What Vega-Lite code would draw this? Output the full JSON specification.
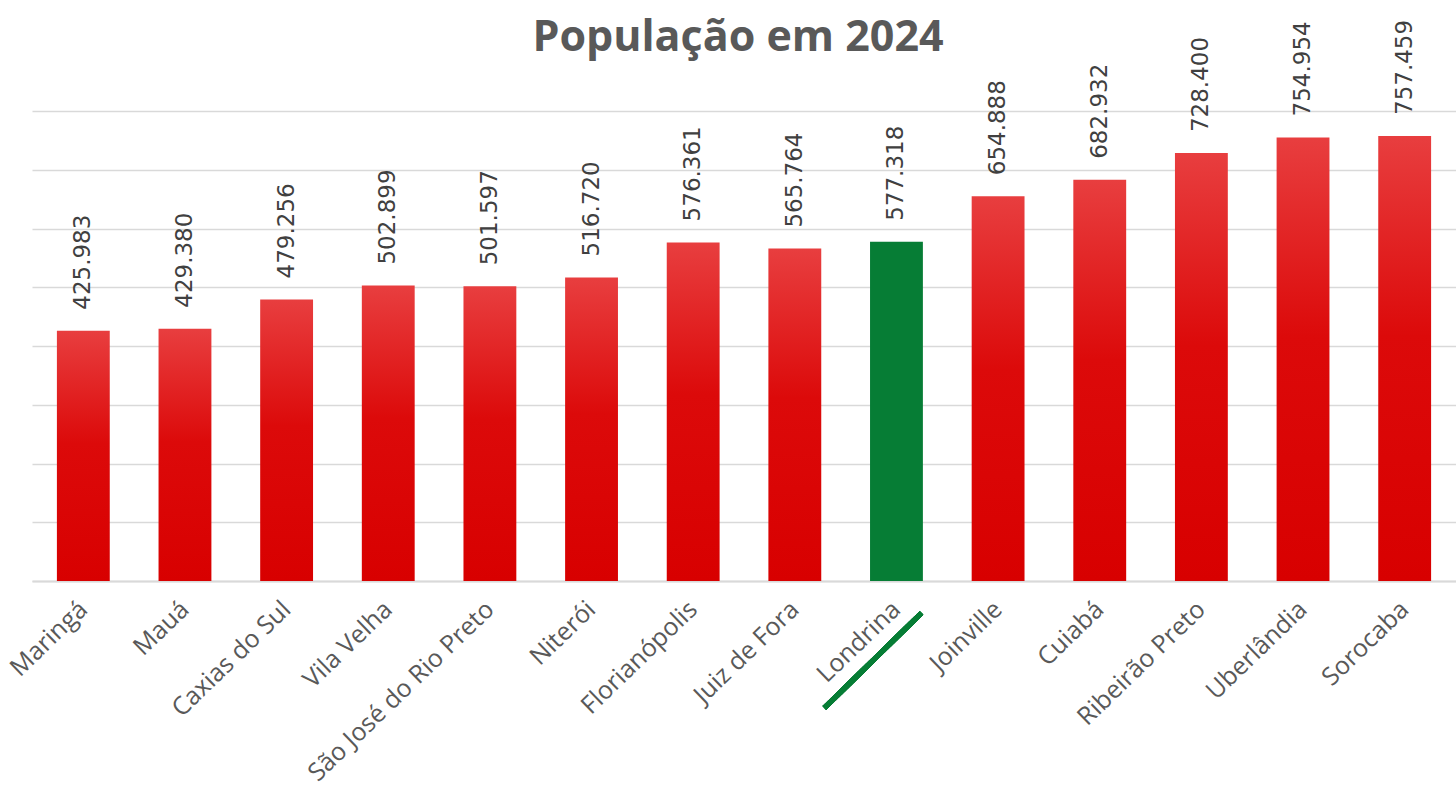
{
  "$schema": "https://vega.github.io/schema/vega-lite/v6.json",
  "width": 1424,
  "height": 470,
  "autosize": {"type": "none"},
  "padding": {"left": 32, "top": 111, "right": 0, "bottom": 210},
  "background": "white",
  "title": {
    "text": "População em 2024",
    "frame": "group",
    "anchor": "middle",
    "orient": "top",
    "baseline": "alphabetic",
    "offset": -74,
    "dx": -6,
    "font": "Open Sans",
    "fontSize": 43,
    "fontWeight": "bold",
    "color": "#595959"
  },
  "config": {
    "locale": {"number": {"decimal": ",", "thousands": ".", "grouping": [3], "currency": ["R$", ""]}},
    "view": {"stroke": null},
    "axis": {"labelFont": "Open Sans", "titleFont": "Open Sans"}
  },
  "data": {
    "values": [
      {"cidade": "Maringá", "populacao": 425983, "destaque": "não"},
      {"cidade": "Mauá", "populacao": 429380, "destaque": "não"},
      {"cidade": "Caxias do Sul", "populacao": 479256, "destaque": "não"},
      {"cidade": "Vila Velha", "populacao": 502899, "destaque": "não"},
      {"cidade": "São José do Rio Preto", "populacao": 501597, "destaque": "não"},
      {"cidade": "Niterói", "populacao": 516720, "destaque": "não"},
      {"cidade": "Florianópolis", "populacao": 576361, "destaque": "não"},
      {"cidade": "Juiz de Fora", "populacao": 565764, "destaque": "não"},
      {"cidade": "Londrina", "populacao": 577318, "destaque": "sim"},
      {"cidade": "Joinville", "populacao": 654888, "destaque": "não"},
      {"cidade": "Cuiabá", "populacao": 682932, "destaque": "não"},
      {"cidade": "Ribeirão Preto", "populacao": 728400, "destaque": "não"},
      {"cidade": "Uberlândia", "populacao": 754954, "destaque": "não"},
      {"cidade": "Sorocaba", "populacao": 757459, "destaque": "não"}
    ]
  },
  "encoding": {
    "x": {
      "field": "cidade",
      "type": "nominal",
      "sort": ["Maringá", "Mauá", "Caxias do Sul", "Vila Velha", "São José do Rio Preto", "Niterói", "Florianópolis", "Juiz de Fora", "Londrina", "Joinville", "Cuiabá", "Ribeirão Preto", "Uberlândia", "Sorocaba"],
      "scale": {"paddingInner": 0.48, "paddingOuter": 0.245},
      "axis": {
        "title": null,
        "labelAngle": -44,
        "labelAlign": "right",
        "labelBaseline": "middle",
        "labelFontSize": 25,
        "labelColor": "#595959",
        "labelPadding": 24,
        "labelLimit": 0,
        "ticks": false,
        "domainColor": "#d9d9d9",
        "domainWidth": 2,
        "labelOverlap": false
      }
    },
    "y": {
      "field": "populacao",
      "type": "quantitative",
      "scale": {"domain": [0, 800000], "nice": false},
      "axis": {
        "title": null,
        "labels": false,
        "ticks": false,
        "domain": false,
        "values": [0, 100000, 200000, 300000, 400000, 500000, 600000, 700000, 800000],
        "gridColor": "#d9d9d9",
        "gridWidth": 1.5
      }
    }
  },
  "layer": [
    {
      "transform": [{"filter": "datum.destaque === 'não'"}],
      "mark": {
        "type": "bar",
        "color": {
          "gradient": "linear",
          "x1": 0, "y1": 0, "x2": 0, "y2": 1,
          "stops": [
            {"offset": 0, "color": "#e83e3f"},
            {"offset": 0.45, "color": "#dc0a0a"},
            {"offset": 1, "color": "#d80000"}
          ]
        }
      }
    },
    {
      "transform": [{"filter": "datum.destaque === 'sim'"}],
      "mark": {"type": "bar", "color": "#067d35"}
    },
    {
      "mark": {
        "type": "text",
        "angle": 270,
        "align": "left",
        "baseline": "middle",
        "yOffset": -21,
        "font": "DejaVu Sans",
        "fontSize": 23,
        "color": "#404040"
      },
      "encoding": {
        "text": {"field": "populacao", "type": "quantitative", "format": ",.0f"}
      }
    },
    {
      "mark": {
        "type": "rule",
        "color": "#067d35",
        "strokeWidth": 5,
        "clip": false,
        "xOffset": -72,
        "x2Offset": 25
      },
      "encoding": {
        "x": {"datum": "Londrina"},
        "x2": {"datum": "Londrina"},
        "y": {"datum": -216000},
        "y2": {"datum": -54500}
      }
    }
  ]
}
